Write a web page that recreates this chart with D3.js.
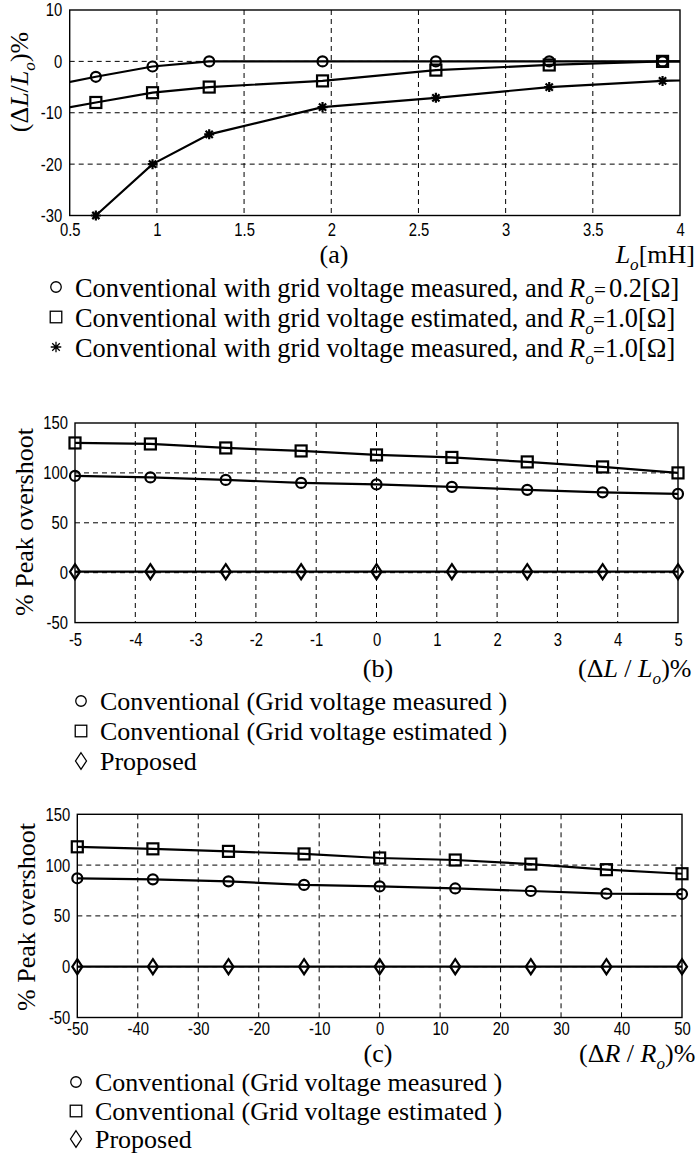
<!DOCTYPE html>
<html><head><meta charset="utf-8">
<script src="https://cdn.jsdelivr.net/npm/d3@7"></script>
<style>
html,body{margin:0;padding:0;background:#fff;}
svg{display:block;}
</style></head>
<body>
<svg id="chart" width="697" height="1164"></svg>
<script>
// ---------- data: (a) inductance deviation vs. nominal inductance ----------
const loValues       = [0.325, 0.65, 0.975, 1.3, 1.95, 2.6, 3.25, 3.9, 4.55];
const devMeasured02  = [-5.2, -3, -1, 0, 0, 0, 0, 0, 0];
const devEstimated10 = [-10, -8, -6.1, -5, -3.8, -1.7, -0.7, 0, 0];
const devMeasured10  = [null, -30, -20, -14.2, -8.9, -7.1, -5, -3.8, -3.2];
const loTicks        = [0.5, 1, 1.5, 2, 2.5, 3, 3.5, 4];
const loTickLabels   = ["0.5", "1", "1.5", "2", "2.5", "3", "3.5", "4"];
const devTicks       = [-30, -20, -10, 0, 10];

// ---------- data: (b) peak overshoot vs. inductance error ----------
const dLValues        = [-5, -3.75, -2.5, -1.25, 0, 1.25, 2.5, 3.75, 5];
const peakL_measured  = [97, 95.5, 93, 90, 88.5, 86, 83, 80.5, 79];
const peakL_estimated = [130, 129, 125, 122, 118, 115.5, 111, 106, 100];
const peakL_proposed  = [1, 1, 1, 1, 1, 1, 1, 1, 1];
const dLTicks         = [-5, -4, -3, -2, -1, 0, 1, 2, 3, 4, 5];

// ---------- data: (c) peak overshoot vs. resistance error ----------
const dRValues        = [-50, -37.5, -25, -12.5, 0, 12.5, 25, 37.5, 50];
const peakR_measured  = [87, 86, 84, 80.5, 79, 77, 74.5, 72, 71.5];
const peakR_estimated = [118, 116, 113.5, 111, 107, 105, 101, 95.5, 91.5];
const peakR_proposed  = [0, 0, 0, 0, 0, 0, 0, 0, 0];
const dRTicks         = [-50, -40, -30, -20, -10, 0, 10, 20, 30, 40, 50];

const peakTicks = [-50, 0, 50, 100, 150];

// legend entries; "at" pins a run to an absolute x position, "sz" scales a run
const legendA = [
  {marker: "circle",   parts: [{t: "Conventional with grid voltage measured, and"}, {t: "R", i: 1, at: 569}, {t: "o", i: 1, sub: 1}, {t: "=", at: 594, sz: 0.8}, {t: "0.2[Ω]", at: 609}]},
  {marker: "square",   parts: [{t: "Conventional with grid voltage estimated, and"}, {t: "R", i: 1, at: 569}, {t: "o", i: 1, sub: 1}, {t: "=", at: 593, sz: 0.8}, {t: "1.0[Ω]", at: 605}]},
  {marker: "asterisk", parts: [{t: "Conventional with grid voltage measured, and"}, {t: "R", i: 1, at: 569}, {t: "o", i: 1, sub: 1}, {t: "=", at: 593, sz: 0.8}, {t: "1.0[Ω]", at: 605}]}
];
const legendBC = [
  {marker: "circle",  parts: [{t: "Conventional (Grid voltage measured )"}]},
  {marker: "square",  parts: [{t: "Conventional (Grid voltage estimated )"}]},
  {marker: "diamond", parts: [{t: "Proposed"}]}
];

// ---------- styling ----------
const TICK_FONT = "'Liberation Sans',Arial,sans-serif";
const TICK_SQUEEZE = 0.8;
const SERIF = "'Liberation Serif','Times New Roman',serif";

const svg = d3.select("#chart");

// text with italic runs and subscripts
function richText(g, x, y, parts, opts = {}) {
  const size = opts.size || 26;
  const t = g.append("text")
    .attr("x", x).attr("y", y)
    .attr("font-family", SERIF)
    .attr("font-size", size)
    .attr("text-anchor", opts.anchor || "start")
    .attr("fill", "#000");
  if (opts.rotate) t.attr("transform", `rotate(-90,${x},${y})`);
  let shifted = false;
  parts.forEach(p => {
    const s = t.append("tspan").text(p.t);
    if (p.at != null) s.attr("x", p.at);
    if (p.i) s.attr("font-style", "italic");
    if (p.sz) s.attr("font-size", size * p.sz);
    if (p.sub) {
      s.attr("font-size", size * 0.66).attr("dy", size * 0.26);
      shifted = true;
    } else if (shifted) {
      s.attr("dy", -size * 0.26);
      shifted = false;
    }
  });
  return t;
}

function drawMarker(g, type, cx, cy, o = {}) {
  const sw = o.sw || 2;
  const k = o.k || 1;
  if (type === "circle") {
    g.append("circle").attr("cx", cx).attr("cy", cy).attr("r", 5 * k)
      .attr("fill", "none").attr("stroke", "#000").attr("stroke-width", sw);
  } else if (type === "square") {
    const h = 5.5 * k;
    g.append("rect").attr("x", cx - h).attr("y", cy - h).attr("width", 2 * h).attr("height", 2 * h)
      .attr("fill", "none").attr("stroke", "#000").attr("stroke-width", sw);
  } else if (type === "diamond") {
    const w = 5 * k, h = 7.5 * k;
    g.append("path").attr("d", `M${cx},${cy - h}L${cx + w},${cy}L${cx},${cy + h}L${cx - w},${cy}Z`)
      .attr("fill", "none").attr("stroke", "#000").attr("stroke-width", sw);
  } else if (type === "asterisk") {
    const r = 5 * k, d = r * 0.72;
    g.append("path")
      .attr("d", `M${cx},${cy - r}V${cy + r}M${cx - r},${cy}H${cx + r}M${cx - d},${cy - d}L${cx + d},${cy + d}M${cx - d},${cy + d}L${cx + d},${cy - d}`)
      .attr("fill", "none").attr("stroke", "#000").attr("stroke-width", sw);
  }
}

let clipId = 0;
function drawPanel(cfg) {
  const g = svg.append("g");
  const x = d3.scaleLinear().domain(cfg.xDomain).range([cfg.left, cfg.right]);
  const y = d3.scaleLinear().domain(cfg.yDomain).range([cfg.bottom, cfg.top]);
  const w = cfg.right - cfg.left, h = cfg.bottom - cfg.top;

  // dashed grid
  const grid = g.append("g").attr("stroke", "#000").attr("stroke-width", 1).attr("stroke-dasharray", "5,4");
  cfg.xTicks.filter(v => v > cfg.xDomain[0] && v < cfg.xDomain[1]).forEach(v => {
    grid.append("line").attr("x1", x(v)).attr("x2", x(v)).attr("y1", cfg.top).attr("y2", cfg.bottom);
  });
  cfg.yTicks.filter(v => v > cfg.yDomain[0] && v < cfg.yDomain[1]).forEach(v => {
    grid.append("line").attr("x1", cfg.left).attr("x2", cfg.right).attr("y1", y(v)).attr("y2", y(v));
  });

  // tick labels (plain hyphen for negatives, narrow face)
  const plain = d => String(d);
  const xa = g.append("g").attr("transform", `translate(0,${cfg.bottom})`)
    .call(d3.axisBottom(x).tickValues(cfg.xTicks).tickSize(0).tickPadding(cfg.xPad)
      .tickFormat((d, i) => cfg.xLabels ? cfg.xLabels[i] : plain(d)));
  const ya = g.append("g").attr("transform", `translate(${cfg.left},0)`)
    .call(d3.axisLeft(y).tickValues(cfg.yTicks).tickSize(0).tickPadding(cfg.yPad).tickFormat(plain));
  [xa, ya].forEach(a => {
    a.select(".domain").remove();
    a.selectAll("text").attr("font-family", TICK_FONT).attr("font-size", 18.5).attr("fill", "#000")
      .attr("transform", `scale(${TICK_SQUEEZE},1)`);
  });
  ya.selectAll("text").attr("x", -cfg.yPad / TICK_SQUEEZE);

  // series
  const cid = "clip" + (clipId++);
  g.append("clipPath").attr("id", cid).append("rect")
    .attr("x", cfg.left).attr("y", cfg.top - 1).attr("width", w).attr("height", h + 2);
  const line = d3.line().defined(d => d[1] != null).x(d => x(d[0])).y(d => y(d[1]));
  cfg.series.forEach(s => {
    const pts = cfg.xValues.map((xv, i) => [xv, s.values[i]]);
    g.append("path").datum(pts).attr("d", line)
      .attr("fill", "none").attr("stroke", "#000").attr("stroke-width", 2.2)
      .attr("clip-path", `url(#${cid})`);
    pts.filter(p => p[1] != null && p[0] >= cfg.xDomain[0] && p[0] <= cfg.xDomain[1])
      .forEach(p => drawMarker(g, s.marker, x(p[0]), y(p[1]), {sw: 2.2}));
  });

  // frame
  g.append("rect").attr("x", cfg.left).attr("y", cfg.top).attr("width", w).attr("height", h)
    .attr("fill", "none").attr("stroke", "#000").attr("stroke-width", 1.4);
  return g;
}

function drawLegend(items, symX, textX, baselines, symOffset, size) {
  const g = svg.append("g");
  items.forEach((it, i) => {
    drawMarker(g, it.marker, symX, baselines[i] - symOffset, {sw: 1.3, k: it.marker === "diamond" ? 1.1 : 1.05});
    richText(g, textX, baselines[i], it.parts, {size: size});
  });
}

// ---------- panel (a) ----------
drawPanel({
  left: 69.7, right: 680, top: 10, bottom: 215.5,
  xDomain: [0.5, 4], yDomain: [-30, 10],
  xTicks: loTicks, xLabels: loTickLabels, yTicks: devTicks,
  xPad: 7, yPad: 7.5,
  xValues: loValues,
  series: [
    {values: devMeasured02, marker: "circle"},
    {values: devEstimated10, marker: "square"},
    {values: devMeasured10, marker: "asterisk"}
  ]
});
richText(svg, 28, 82, [{t: "(Δ"}, {t: "L", i: 1}, {t: "/"}, {t: "L", i: 1}, {t: "o", i: 1, sub: 1}, {t: ")%"}], {rotate: true, anchor: "middle"});
richText(svg, 334, 263, [{t: "(a)"}], {anchor: "middle"});
richText(svg, 695, 263, [{t: "L", i: 1}, {t: "o", i: 1, sub: 1}, {t: "[mH]"}], {anchor: "end"});
drawLegend(legendA, 56, 75, [297, 327, 357], 10, 26.4);

// ---------- panel (b) ----------
drawPanel({
  left: 75, right: 678, top: 423, bottom: 622.6,
  xDomain: [-5, 5], yDomain: [-50, 150],
  xTicks: dLTicks, yTicks: peakTicks,
  xPad: 10.5, yPad: 7,
  xValues: dLValues,
  series: [
    {values: peakL_estimated, marker: "square"},
    {values: peakL_measured, marker: "circle"},
    {values: peakL_proposed, marker: "diamond"}
  ]
});
richText(svg, 33, 522, [{t: "% Peak overshoot"}], {rotate: true, anchor: "middle"});
richText(svg, 378, 677, [{t: "(b)"}], {anchor: "middle"});
richText(svg, 578, 677, [{t: "(Δ"}, {t: "L", i: 1}, {t: " / "}, {t: "L", i: 1}, {t: "o", i: 1, sub: 1}, {t: ")%"}]);
drawLegend(legendBC, 81, 100, [710, 740, 770], 9, 26);

// ---------- panel (c) ----------
drawPanel({
  left: 77.3, right: 682, top: 814.3, bottom: 1017.5,
  xDomain: [-50, 50], yDomain: [-50, 150],
  xTicks: dRTicks, yTicks: peakTicks,
  xPad: 4.5, yPad: 7,
  xValues: dRValues,
  series: [
    {values: peakR_estimated, marker: "square"},
    {values: peakR_measured, marker: "circle"},
    {values: peakR_proposed, marker: "diamond"}
  ]
});
richText(svg, 35, 917, [{t: "% Peak overshoot"}], {rotate: true, anchor: "middle"});
richText(svg, 378, 1062, [{t: "(c)"}], {anchor: "middle"});
richText(svg, 579, 1062, [{t: "(Δ"}, {t: "R", i: 1}, {t: " / "}, {t: "R", i: 1}, {t: "o", i: 1, sub: 1}, {t: ")%"}]);
drawLegend(legendBC, 76, 95, [1091, 1120, 1148], 9, 26);
</script>
</body></html>
